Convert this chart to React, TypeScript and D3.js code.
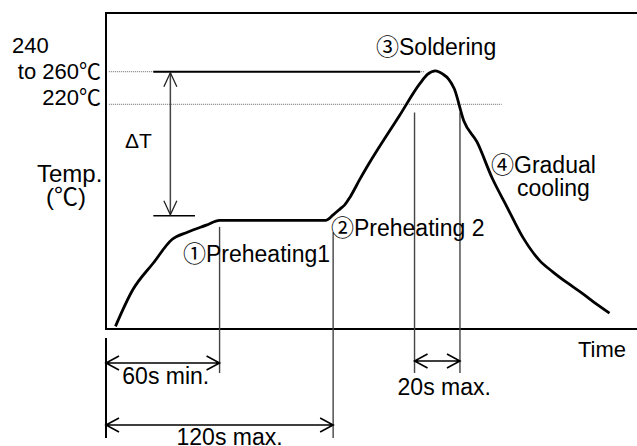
import React, { useLayoutEffect, useRef } from 'react';
import * as d3 from 'd3';

// schematic reflow profile: time (s) vs temperature (°C)
const profileTime = [5, 14, 25, 35, 43, 53, 60, 90, 116, 120, 124, 126, 129, 134, 138, 155, 166, 170, 174, 178, 181, 184, 189, 196, 204, 212, 220, 229, 236, 244, 252, 259, 266];
const profileTemp = [28, 69, 100, 127, 135, 143, 148.5, 148.5, 148.5, 152.5, 156.5, 158.5, 163.5, 174, 182, 213, 246, 257, 261, 257, 251, 239, 210, 197, 175, 157, 130, 103, 90, 77, 65, 53.5, 43];

// dotted guide levels and where they stop
const levelTemps = [260, 220];
const levelEnds = [168.5, 209];

// extension lines (time, temperature where the line starts)
const markerTimes = [60, 120, 163, 187];
const markerTops = [141, 135, 215, 215];

// dimension spans
const spanLabels = ['60s min.', '120s max.', '20s max.'];
const spanFrom = [0, 0, 163];
const spanTo = [60, 120, 187];

// ΔT bracket
const deltaTime = 34;
const deltaLow = 152;
const deltaHigh = 260;
const deltaBarFrom = 25;
const deltaBarTo = [166, 47];

const axisLabels = ['240', 'to 260℃', '220℃'];
const phaseLabels = ['①Preheating1', '②Preheating 2', '③Soldering', '④Gradual', 'cooling'];

const W = 637;
const H = 446;
const frame = { left: 106, top: 13, right: 637, bottom: 329 };
const FONT = '"Liberation Sans", Arial, sans-serif';
const CJK_FONT = '"Noto Sans CJK JP", "Noto Sans CJK SC", sans-serif';
const WIDE = /([①-④℃])/;

const drawProfile = (el: SVGSVGElement) => {
  const svg = d3.select(el);
  svg.selectAll('*').remove();

  const x = d3.scaleLinear().domain([0, 280]).range([frame.left, 636]);
  // not to scale in the source either: piecewise temperature axis
  const y = d3
    .scaleLinear()
    .domain([25, 150, 220, 260])
    .range([frame.bottom, 219, 104.3, 71.7]);

  // frame (no right edge)
  svg
    .append('path')
    .attr(
      'd',
      `M${frame.right},${frame.top}H${frame.left}V${frame.bottom}H${frame.right}`,
    )
    .attr('fill', 'none')
    .attr('stroke', '#000')
    .attr('stroke-width', 2);

  // dotted levels
  levelTemps.forEach((t, i) => {
    svg
      .append('line')
      .attr('x1', x(1.5))
      .attr('x2', x(levelEnds[i]))
      .attr('y1', y(t))
      .attr('y2', y(t))
      .attr('stroke', '#666')
      .attr('stroke-width', 1)
      .attr('stroke-dasharray', '1,1');
  });

  // ΔT bars + arrow
  deltaBarTo.forEach((t, i) => {
    const ty = i === 0 ? y(deltaHigh) : y(deltaLow);
    svg
      .append('line')
      .attr('x1', x(deltaBarFrom))
      .attr('x2', x(t))
      .attr('y1', ty)
      .attr('y2', ty)
      .attr('stroke', '#000')
      .attr('stroke-width', i === 0 ? 2 : 1.5);
  });
  const dx = x(deltaTime);
  const yTop = y(deltaHigh) + 1;
  const yBot = y(deltaLow) - 1;
  svg
    .append('line')
    .attr('x1', dx)
    .attr('x2', dx)
    .attr('y1', yTop)
    .attr('y2', yBot)
    .attr('stroke', '#444')
    .attr('stroke-width', 1.5);
  svg
    .append('path')
    .attr(
      'd',
      `M${dx - 6.5},${yTop + 14}L${dx},${yTop}L${dx + 6.5},${yTop + 14}` +
        `M${dx - 6.5},${yBot - 14}L${dx},${yBot}L${dx + 6.5},${yBot - 14}`,
    )
    .attr('fill', 'none')
    .attr('stroke', '#222')
    .attr('stroke-width', 1.3);

  // extension lines
  const markerBottoms = [373, 438, 373, 373];
  markerTimes.forEach((t, i) => {
    svg
      .append('line')
      .attr('x1', x(t))
      .attr('x2', x(t))
      .attr('y1', y(markerTops[i]))
      .attr('y2', markerBottoms[i])
      .attr('stroke', '#444')
      .attr('stroke-width', 1.4);
  });
  svg
    .append('line')
    .attr('x1', x(0))
    .attr('x2', x(0))
    .attr('y1', frame.bottom + 9)
    .attr('y2', 438)
    .attr('stroke', '#000')
    .attr('stroke-width', 2);

  // profile curve
  const line = d3
    .line<number>()
    .x((_, i) => x(profileTime[i]))
    .y((d) => y(d))
    .curve(d3.curveMonotoneX);
  svg
    .append('path')
    .attr('d', line(profileTemp))
    .attr('fill', 'none')
    .attr('stroke', '#000')
    .attr('stroke-width', 2.8)
    .attr('stroke-linejoin', 'round');

  // text with full-width glyphs (circled digits, ℃) taken from a CJK font
  const text = (s: string, tx: number, ty: number, size = 23, anchor = 'start') => {
    const t = svg
      .append('text')
      .attr('x', tx)
      .attr('y', ty)
      .attr('font-size', size)
      .attr('text-anchor', anchor)
      .attr('font-family', FONT)
      .attr('fill', '#000');
    s.split(WIDE)
      .filter(Boolean)
      .forEach((part) => {
        t.append('tspan')
          .attr('font-family', WIDE.test(part) ? CJK_FONT : FONT)
          .text(part);
      });
    return t;
  };

  // dimension arrows
  const spanRows = [363, 425, 361];
  const spanText = [
    { dx: 3, y: 384 },
    { dx: 10, y: 445 },
    { dx: 7, y: 395 },
  ];
  spanLabels.forEach((label, i) => {
    const x1 = x(spanFrom[i]);
    const x2 = x(spanTo[i]);
    const r = spanRows[i];
    svg
      .append('path')
      .attr(
        'd',
        `M${x1},${r}H${x2}` +
          `M${x1 + 13},${r - 7}L${x1},${r}L${x1 + 13},${r + 7}` +
          `M${x2 - 13},${r - 7}L${x2},${r}L${x2 - 13},${r + 7}`,
      )
      .attr('fill', 'none')
      .attr('stroke', '#000')
      .attr('stroke-width', 1.6);
    text(label, (x1 + x2) / 2 + spanText[i].dx, spanText[i].y, 23, 'middle');
  });

  text(axisLabels[0], 12, 53, 22);
  text(axisLabels[1], 101, 79, 22, 'end');
  text(axisLabels[2], 101, 105, 22, 'end');
  text('Temp.', 37, 182, 24);
  text('(℃)', 46, 205, 24);
  text('ΔT', 125, 148, 21);

  const phasePos = [
    [183, 262],
    [331, 236],
    [376, 55],
    [491, 173],
    [517, 196],
  ];
  phaseLabels.forEach((s, i) => text(s, phasePos[i][0], phasePos[i][1]));
  text('Time', 578, 357, 22);
};

export default function App() {
  const ref = useRef<SVGSVGElement>(null);

  useLayoutEffect(() => {
    if (ref.current) drawProfile(ref.current);
  }, []);

  return (
    <svg
      ref={ref}
      width={W}
      height={H}
      style={{ position: 'absolute', left: 0, top: 0, background: '#fff' }}
    />
  );
}
